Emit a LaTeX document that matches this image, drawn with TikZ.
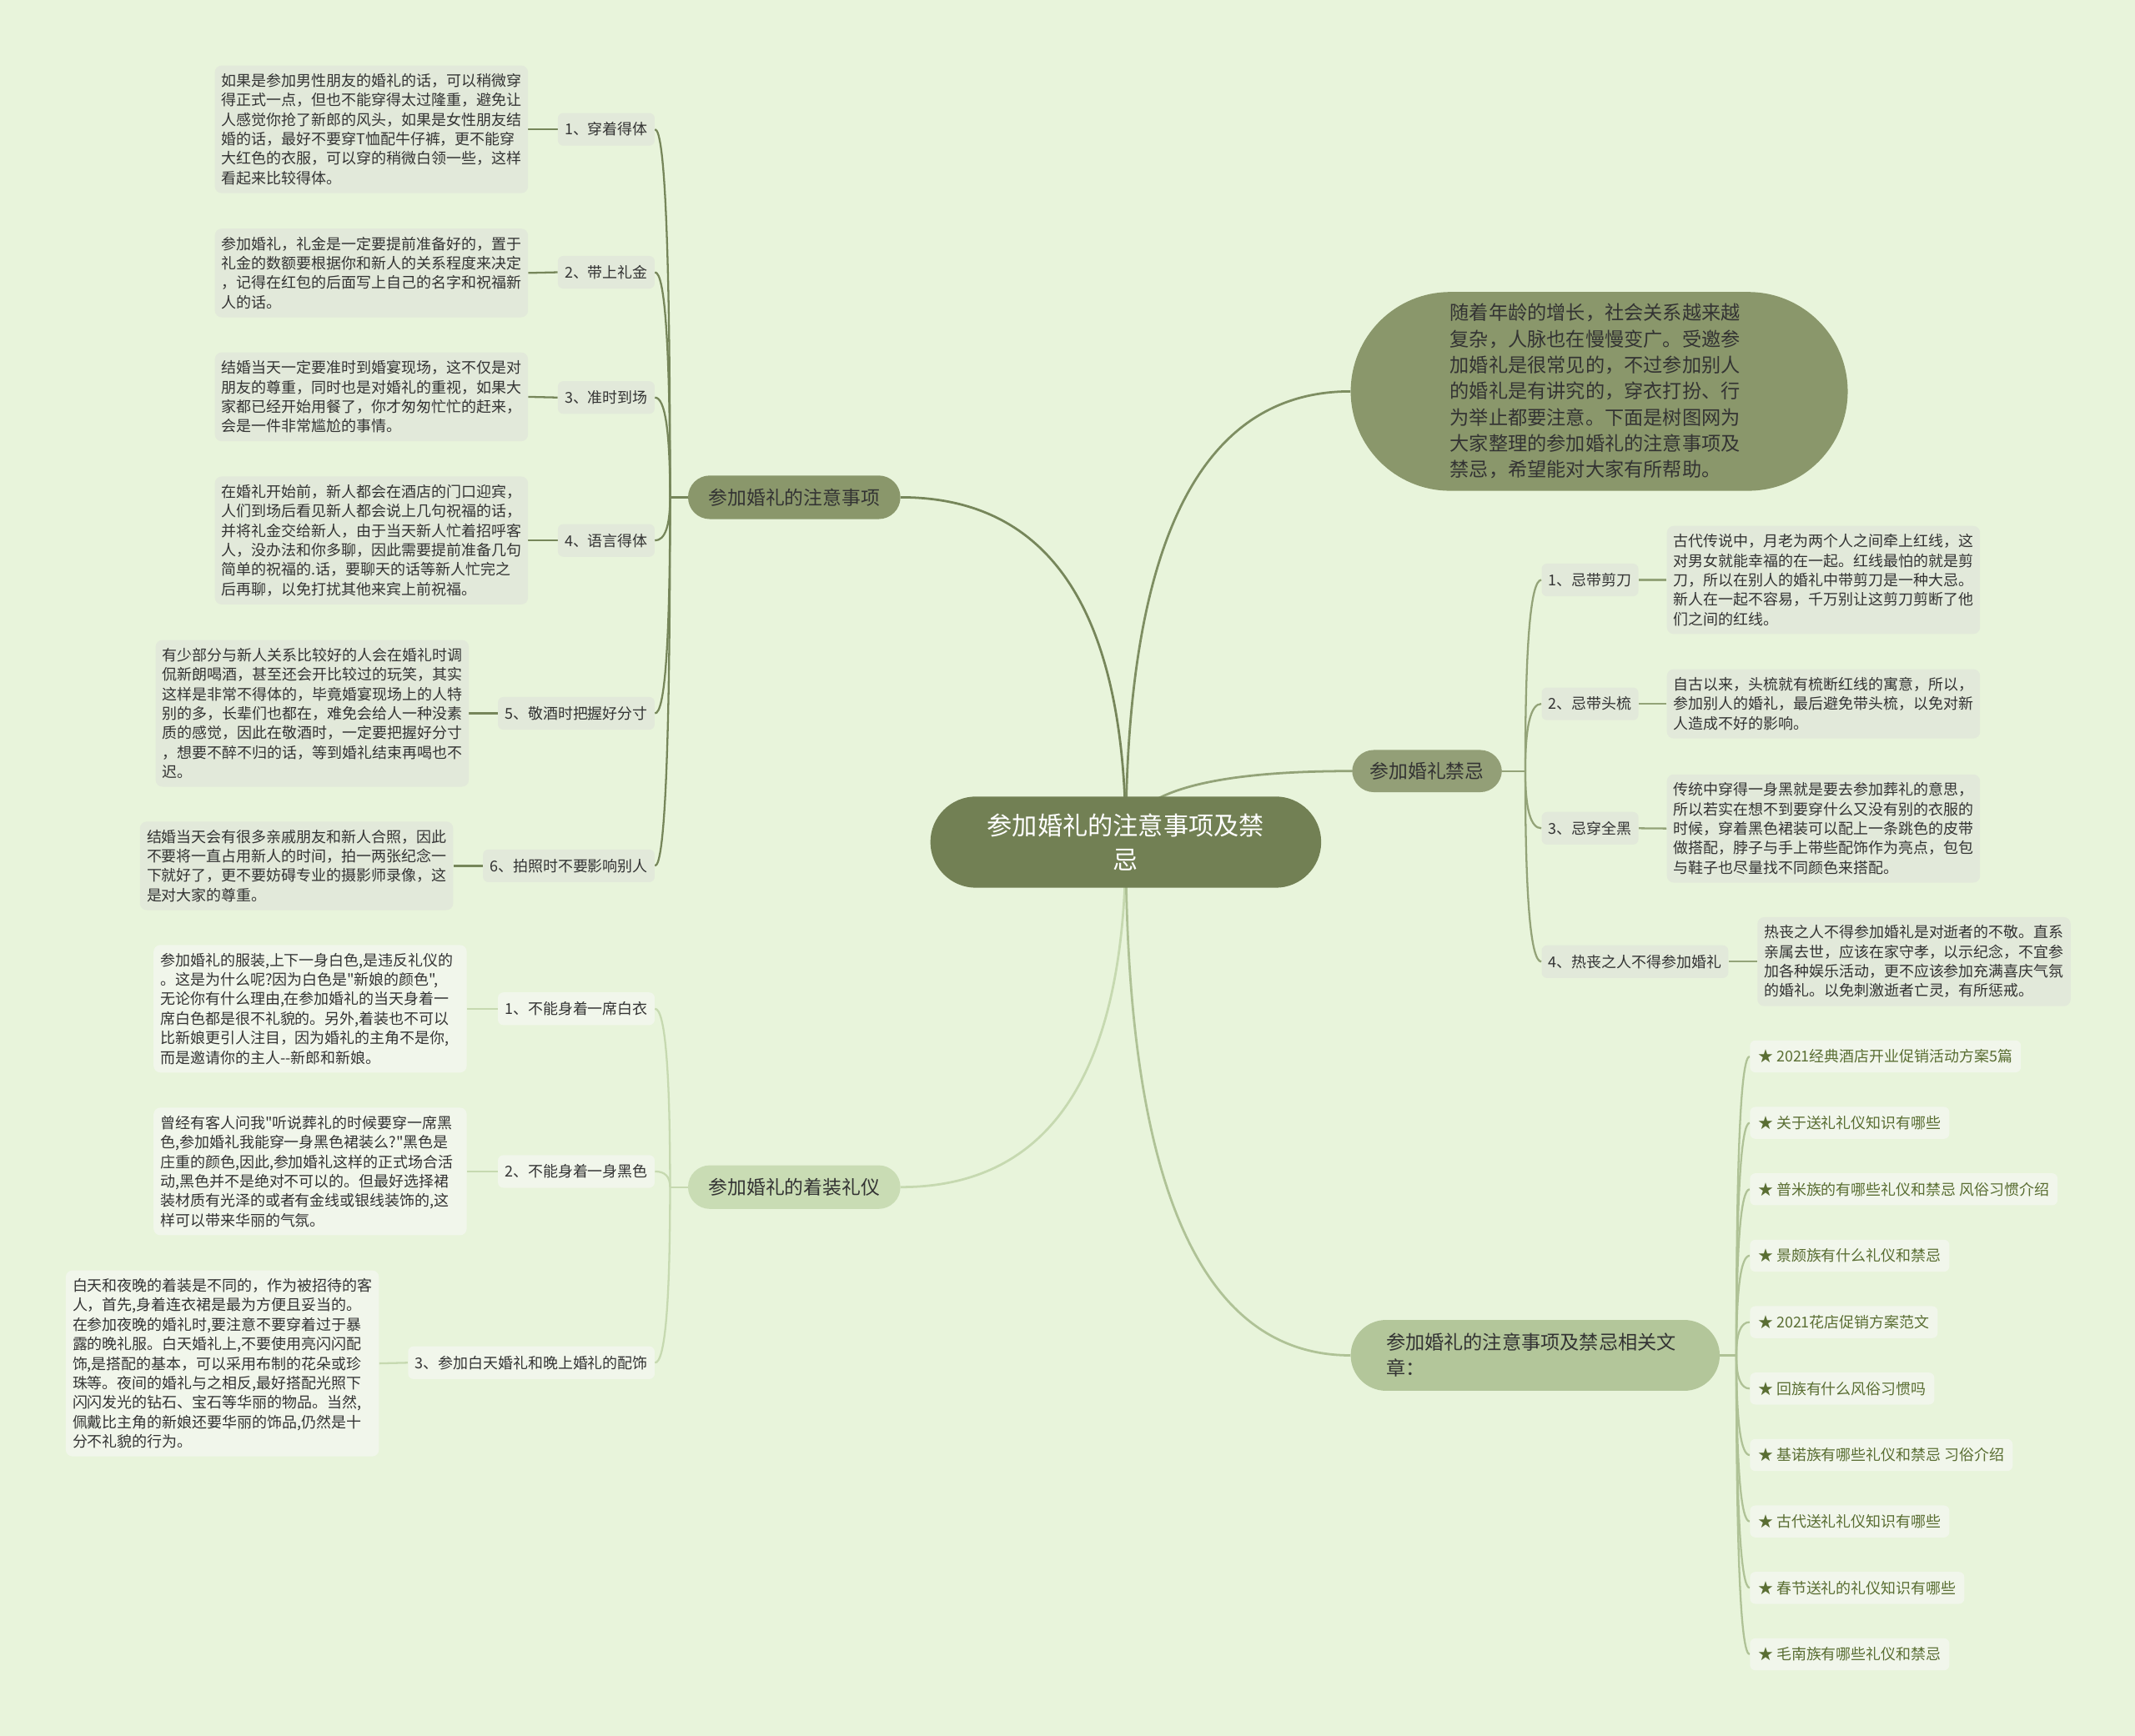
\documentclass[tikz,border=0pt]{standalone}
\usepackage{fontspec}
\setmainfont{Noto Sans CJK SC}[Ligatures=TeXOff]
\usetikzlibrary{calc,backgrounds}
\definecolor{bgc}{HTML}{E8F4DB}
\definecolor{rootc}{HTML}{728054}
\definecolor{pilla}{HTML}{8A976B}
\definecolor{pillj}{HTML}{939F77}
\definecolor{pillr}{HTML}{B3C69A}
\definecolor{pillw}{HTML}{C9DCB4}
\definecolor{boxa}{HTML}{E2E9DA}
\definecolor{boxb}{HTML}{F1F6EB}
\definecolor{txt}{HTML}{333333}
\definecolor{arttxt}{HTML}{5A6E33}
\definecolor{lka}{HTML}{76865A}
\definecolor{lki}{HTML}{7E8E62}
\definecolor{lkj}{HTML}{93A378}
\definecolor{lkr}{HTML}{AFC296}
\definecolor{lkw}{HTML}{C6D9B0}
\newcommand{\qlink}[3][]{\draw[#1] (#2) .. controls ($(#2)!0.6667!(#2 |- #3)$) and ($(#3)!0.6667!(#2 |- #3)$) .. (#3);}
\begin{document}
\begin{tikzpicture}[x=1pt,y=-1pt,
  dbox/.style={fill=#1, rounded corners=5pt, inner xsep=5pt, inner ysep=6pt, text width=220pt, align=left, font=\fontsize{11}{14.3}\selectfont, text=txt},
  tagbox/.style={fill=#1, rounded corners=4pt, inner xsep=5pt, inner ysep=0pt, minimum height=24pt, font=\fontsize{11}{13}\selectfont, text=txt},
  artbox/.style={fill=boxb, rounded corners=4pt, inner xsep=6pt, inner ysep=0pt, minimum height=23.5pt, font=\fontsize{11}{13}\selectfont, text=arttxt, anchor=west},
  pill/.style={fill=#1, rounded corners=16pt, minimum height=32pt, inner sep=0pt, font=\fontsize{14}{18}\selectfont, text=txt},
  rootlink/.style={line width=1.7pt},
  sublink/.style={line width=1.4pt}]
\useasboundingbox (0,0) rectangle (1568,1275);

% root
\node[fill=rootc, rounded corners=33.5pt, minimum width=287pt, minimum height=67pt, inner sep=0pt, align=center, text=white, font=\fontsize{18.5}{25}\selectfont] (root) at (826.8,618.6) {参加婚礼的注意事项及禁\\忌};

% main branches
\node[pill=pilla, minimum width=156pt] (p1) at (583.3,365.3) {参加婚礼的注意事项};
\node[pill=pillw, minimum width=156pt] (p2) at (583.3,872) {参加婚礼的着装礼仪};
\node[fill=pilla, rounded corners=73pt, minimum width=365pt, minimum height=146pt, inner sep=0pt, text width=219pt, align=left, text=txt, font=\fontsize{14.2}{19.2}\selectfont] (intro) at (1174.5,287.5) {随着年龄的增长，社会关系越来越\\复杂，人脉也在慢慢变广。受邀参\\加婚礼是很常见的，不过参加别人\\的婚礼是有讲究的，穿衣打扮、行\\为举止都要注意。下面是树图网为\\大家整理的参加婚礼的注意事项及\\禁忌，希望能对大家有所帮助。};
\node[pill=pillj, minimum width=110pt, minimum height=31pt] (pj) at (1048,566.4) {参加婚礼禁忌};
\node[fill=pillr, rounded corners=26pt, minimum width=271pt, minimum height=52pt, inner sep=0pt, text width=219pt, align=left, text=txt, font=\fontsize{14.2}{19}\selectfont] (rel) at (1127.5,995.6) {参加婚礼的注意事项及禁忌相关文\\章：};

% left branch 1
\node[tagbox=boxa, anchor=east] (l1) at (481,95) {1、穿着得体};
\node[tagbox=boxa, anchor=east] (l2) at (481,200) {2、带上礼金};
\node[tagbox=boxa, anchor=east] (l3) at (481,292) {3、准时到场};
\node[tagbox=boxa, anchor=east] (l4) at (481,397) {4、语言得体};
\node[tagbox=boxa, anchor=east] (l5) at (481,524) {5、敬酒时把握好分寸};
\node[tagbox=boxa, anchor=east] (l6) at (481,636) {6、拍照时不要影响别人};

\node[dbox=boxa, anchor=east] (d1) at (388,95) {如果是参加男性朋友的婚礼的话，可以稍微穿\\得正式一点，但也不能穿得太过隆重，避免让\\人感觉你抢了新郎的风头，如果是女性朋友结\\婚的话，最好不要穿T恤配牛仔裤，更不能穿\\大红色的衣服，可以穿的稍微白领一些，这样\\看起来比较得体。};
\node[dbox=boxa, anchor=east] (d2) at (388,200.5) {参加婚礼，礼金是一定要提前准备好的，置于\\礼金的数额要根据你和新人的关系程度来决定\\，记得在红包的后面写上自己的名字和祝福新\\人的话。};
\node[dbox=boxa, anchor=east] (d3) at (388,291.5) {结婚当天一定要准时到婚宴现场，这不仅是对\\朋友的尊重，同时也是对婚礼的重视，如果大\\家都已经开始用餐了，你才匆匆忙忙的赶来，\\会是一件非常尴尬的事情。};
\node[dbox=boxa, anchor=east] (d4) at (388,397) {在婚礼开始前，新人都会在酒店的门口迎宾，\\人们到场后看见新人都会说上几句祝福的话，\\并将礼金交给新人，由于当天新人忙着招呼客\\人，没办法和你多聊，因此需要提前准备几句\\简单的祝福的.话，要聊天的话等新人忙完之\\后再聊，以免打扰其他来宾上前祝福。};
\node[dbox=boxa, anchor=east] (d5) at (344.5,524) {有少部分与新人关系比较好的人会在婚礼时调\\侃新朗喝酒，甚至还会开比较过的玩笑，其实\\这样是非常不得体的，毕竟婚宴现场上的人特\\别的多，长辈们也都在，难免会给人一种没素\\质的感觉，因此在敬酒时，一定要把握好分寸\\，想要不醉不归的话，等到婚礼结束再喝也不\\迟。};
\node[dbox=boxa, anchor=east] (d6) at (333,636) {结婚当天会有很多亲戚朋友和新人合照，因此\\不要将一直占用新人的时间，拍一两张纪念一\\下就好了，更不要妨碍专业的摄影师录像，这\\是对大家的尊重。};

% left branch 2
\node[tagbox=boxb, anchor=east] (w1) at (481,741) {1、不能身着一席白衣};
\node[tagbox=boxb, anchor=east] (w2) at (481,860.5) {2、不能身着一身黑色};
\node[tagbox=boxb, anchor=east] (w3) at (481,1001) {3、参加白天婚礼和晚上婚礼的配饰};

\node[dbox=boxb, anchor=east] (dw1) at (343,741) {参加婚礼的服装,上下一身白色,是违反礼仪的\\。这是为什么呢?因为白色是"新娘的颜色",\\无论你有什么理由,在参加婚礼的当天身着一\\席白色都是很不礼貌的。另外,着装也不可以\\比新娘更引人注目，因为婚礼的主角不是你,\\而是邀请你的主人--新郎和新娘。};
\node[dbox=boxb, anchor=east] (dw2) at (343,860.5) {曾经有客人问我"听说葬礼的时候要穿一席黑\\色,参加婚礼我能穿一身黑色裙装么?"黑色是\\庄重的颜色,因此,参加婚礼这样的正式场合活\\动,黑色并不是绝对不可以的。但最好选择裙\\装材质有光泽的或者有金线或银线装饰的,这\\样可以带来华丽的气氛。};
\node[dbox=boxb, anchor=east] (dw3) at (278.5,1001.5) {白天和夜晚的着装是不同的，作为被招待的客\\人，首先,身着连衣裙是最为方便且妥当的。\\在参加夜晚的婚礼时,要注意不要穿着过于暴\\露的晚礼服。白天婚礼上,不要使用亮闪闪配\\饰,是搭配的基本，可以采用布制的花朵或珍\\珠等。夜间的婚礼与之相反,最好搭配光照下\\闪闪发光的钻石、宝石等华丽的物品。当然,\\佩戴比主角的新娘还要华丽的饰品,仍然是十\\分不礼貌的行为。};

% right: taboos
\node[tagbox=boxa, anchor=west] (j1) at (1132,426) {1、忌带剪刀};
\node[tagbox=boxa, anchor=west] (j2) at (1132,517) {2、忌带头梳};
\node[tagbox=boxa, anchor=west] (j3) at (1132,608.4) {3、忌穿全黑};
\node[tagbox=boxa, anchor=west] (j4) at (1132,706.4) {4、热丧之人不得参加婚礼};

\node[dbox=boxa, anchor=west] (dj1) at (1224,426) {古代传说中，月老为两个人之间牵上红线，这\\对男女就能幸福的在一起。红线最怕的就是剪\\刀，所以在别人的婚礼中带剪刀是一种大忌。\\新人在一起不容易，千万别让这剪刀剪断了他\\们之间的红线。};
\node[dbox=boxa, anchor=west] (dj2) at (1224,517) {自古以来，头梳就有梳断红线的寓意，所以，\\参加别人的婚礼，最后避免带头梳，以免对新\\人造成不好的影响。};
\node[dbox=boxa, anchor=west] (dj3) at (1224,608.6) {传统中穿得一身黑就是要去参加葬礼的意思，\\所以若实在想不到要穿什么又没有别的衣服的\\时候，穿着黑色裙装可以配上一条跳色的皮带\\做搭配，脖子与手上带些配饰作为亮点，包包\\与鞋子也尽量找不同颜色来搭配。};
\node[dbox=boxa, anchor=west] (dj4) at (1290.5,706.4) {热丧之人不得参加婚礼是对逝者的不敬。直系\\亲属去世，应该在家守孝，以示纪念，不宜参\\加各种娱乐活动，更不应该参加充满喜庆气氛\\的婚礼。以免刺激逝者亡灵，有所惩戒。};

% right: related articles
\node[artbox] (a1) at (1285,776) {★ 2021经典酒店开业促销活动方案5篇};
\node[artbox] (a2) at (1285,824.8) {★ 关于送礼礼仪知识有哪些};
\node[artbox] (a3) at (1285,873.6) {★ 普米族的有哪些礼仪和禁忌 风俗习惯介绍};
\node[artbox] (a4) at (1285,922.4) {★ 景颇族有什么礼仪和禁忌};
\node[artbox] (a5) at (1285,971.2) {★ 2021花店促销方案范文};
\node[artbox] (a6) at (1285,1020) {★ 回族有什么风俗习惯吗};
\node[artbox] (a7) at (1285,1068.8) {★ 基诺族有哪些礼仪和禁忌 习俗介绍};
\node[artbox] (a8) at (1285,1117.6) {★ 古代送礼礼仪知识有哪些};
\node[artbox] (a9) at (1285,1166.4) {★ 春节送礼的礼仪知识有哪些};
\node[artbox] (a10) at (1285,1215.2) {★ 毛南族有哪些礼仪和禁忌};

% connectors
\coordinate (jp1) at ($(p1.west)+(-13,0)$);
\coordinate (jp2) at ($(p2.west)+(-13,0)$);
\coordinate (jpj) at ($(pj.east)+(17,0)$);
\coordinate (jrel) at ($(rel.east)+(12,0)$);
\begin{scope}[on background layer]
\fill[bgc] (0,0) rectangle (1568,1275);
\qlink[rootlink, lka]{root.center}{p1.east}
\qlink[rootlink, lkw]{root.center}{p2.east}
\qlink[rootlink, lki]{root.center}{intro.west}
\qlink[rootlink, lkj]{root.center}{pj.west}
\qlink[rootlink, lkr]{root.center}{rel.west}

\draw[sublink, lka] (p1.west) -- (jp1);
\foreach \n in {l1,l2,l3,l4,l5,l6} {\qlink[sublink, lka]{jp1}{\n.east}}
\foreach \n/\m in {d1/l1,d2/l2,d3/l3,d4/l4,d5/l5,d6/l6} {\draw[sublink, lka] (\n.east) -- (\m.west);}

\draw[sublink, lkw] (p2.west) -- (jp2);
\foreach \n in {w1,w2,w3} {\qlink[sublink, lkw]{jp2}{\n.east}}
\foreach \n/\m in {dw1/w1,dw2/w2,dw3/w3} {\draw[sublink, lkw] (\n.east) -- (\m.west);}

\draw[sublink, lkj] (pj.east) -- (jpj);
\foreach \n in {j1,j2,j3,j4} {\qlink[sublink, lkj]{jpj}{\n.west}}
\foreach \n/\m in {dj1/j1,dj2/j2,dj3/j3,dj4/j4} {\draw[sublink, lkj] (\m.east) -- (\n.west);}

\draw[sublink, lkr] (rel.east) -- (jrel);
\foreach \n in {a1,a2,a3,a4,a5,a6,a7,a8,a9,a10} {\qlink[sublink, lkr]{jrel}{\n.west}}
\end{scope}
\end{tikzpicture}
\end{document}
